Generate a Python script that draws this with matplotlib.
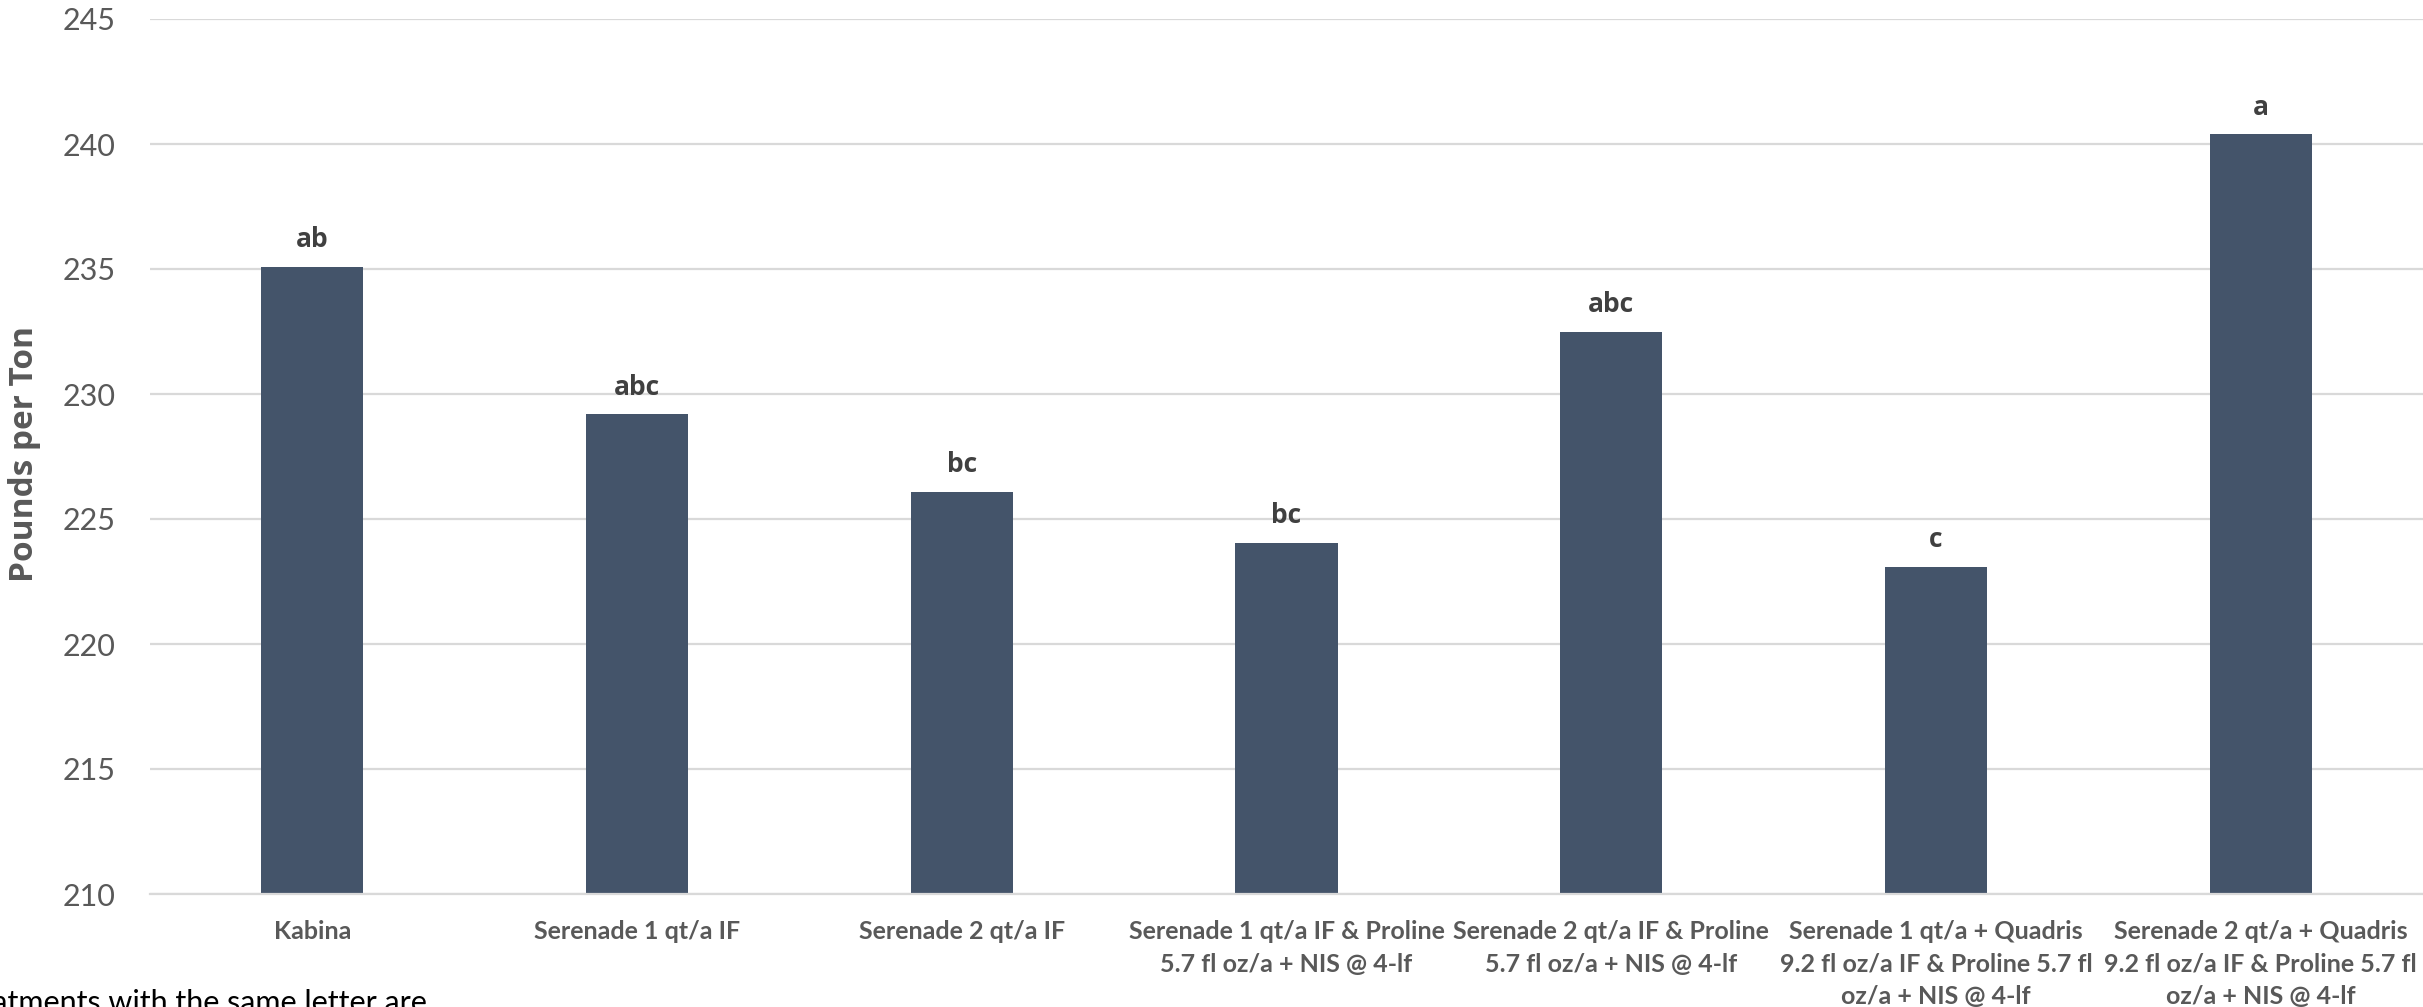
import matplotlib
matplotlib.use("Agg")
import matplotlib.pyplot as plt

categories = [
    "Kabina",
    "Serenade 1 qt/a IF",
    "Serenade 2 qt/a IF",
    "Serenade 1 qt/a IF & Proline\n5.7 fl oz/a + NIS @ 4-lf",
    "Serenade 2 qt/a IF & Proline\n5.7 fl oz/a + NIS @ 4-lf",
    "Serenade 1 qt/a + Quadris\n9.2 fl oz/a IF & Proline 5.7 fl\noz/a + NIS @ 4-lf",
    "Serenade 2 qt/a + Quadris\n9.2 fl oz/a IF & Proline 5.7 fl\noz/a + NIS @ 4-lf",
]
values = [235.1, 229.2, 226.1, 224.05, 232.5, 223.1, 240.4]
letters = ["ab", "abc", "bc", "bc", "abc", "c", "a"]
yticks = [210, 215, 220, 225, 230, 235, 240, 245]

BAR = "#44546A"
GRID = "#D9D9D9"
TXT = "#595959"

fig = plt.figure(figsize=(24.23, 10.07), dpi=100)
ax = fig.add_axes([150/2423, 1 - 894/1007, 1 - 150/2423, (894 - 19)/1007])

x = list(range(len(categories)))
ax.bar(x, values, width=0.315, color=BAR, zorder=3)
ax.set_xlim(-0.5, len(categories) - 0.5)
ax.set_ylim(210, 245)
ax.set_yticks(yticks)
ax.set_yticklabels([str(t) for t in yticks], fontsize=22, color=TXT, family="Lato")
ax.set_xticks(x)
ax.set_xticklabels(categories, fontsize=18, color=TXT, family="Lato",
                   fontweight="bold", linespacing=1.5)
ax.tick_params(axis="y", length=0, pad=25)
ax.tick_params(axis="x", length=0, pad=19)
ax.grid(axis="y", color=GRID, linewidth=1.6, zorder=0)
for s in ["top", "right", "left"]:
    ax.spines[s].set_visible(False)
ax.spines["bottom"].set_color(GRID)
ax.spines["bottom"].set_linewidth(1.6)
ax.spines["bottom"].set_zorder(4)

for xi, v, lab in zip(x, values, letters):
    ax.annotate(lab, (xi, v), xytext=(0, 14), textcoords="offset points",
                ha="center", va="baseline", fontsize=19, fontweight="bold",
                color="#404040", family="Open Sans")

fig.text(25/2423, 1 - 454/1007, "Pounds per Ton", rotation=90,
         ha="center", va="center", fontsize=24, fontweight="bold", color=TXT,
         family="Open Sans")

fig.text(427/2423, 1 - 989/1007, "Treatments with the same letter are",
         ha="right", va="top", fontsize=22, color="black", family="Lato")

fig.savefig("out.png", dpi=100)
